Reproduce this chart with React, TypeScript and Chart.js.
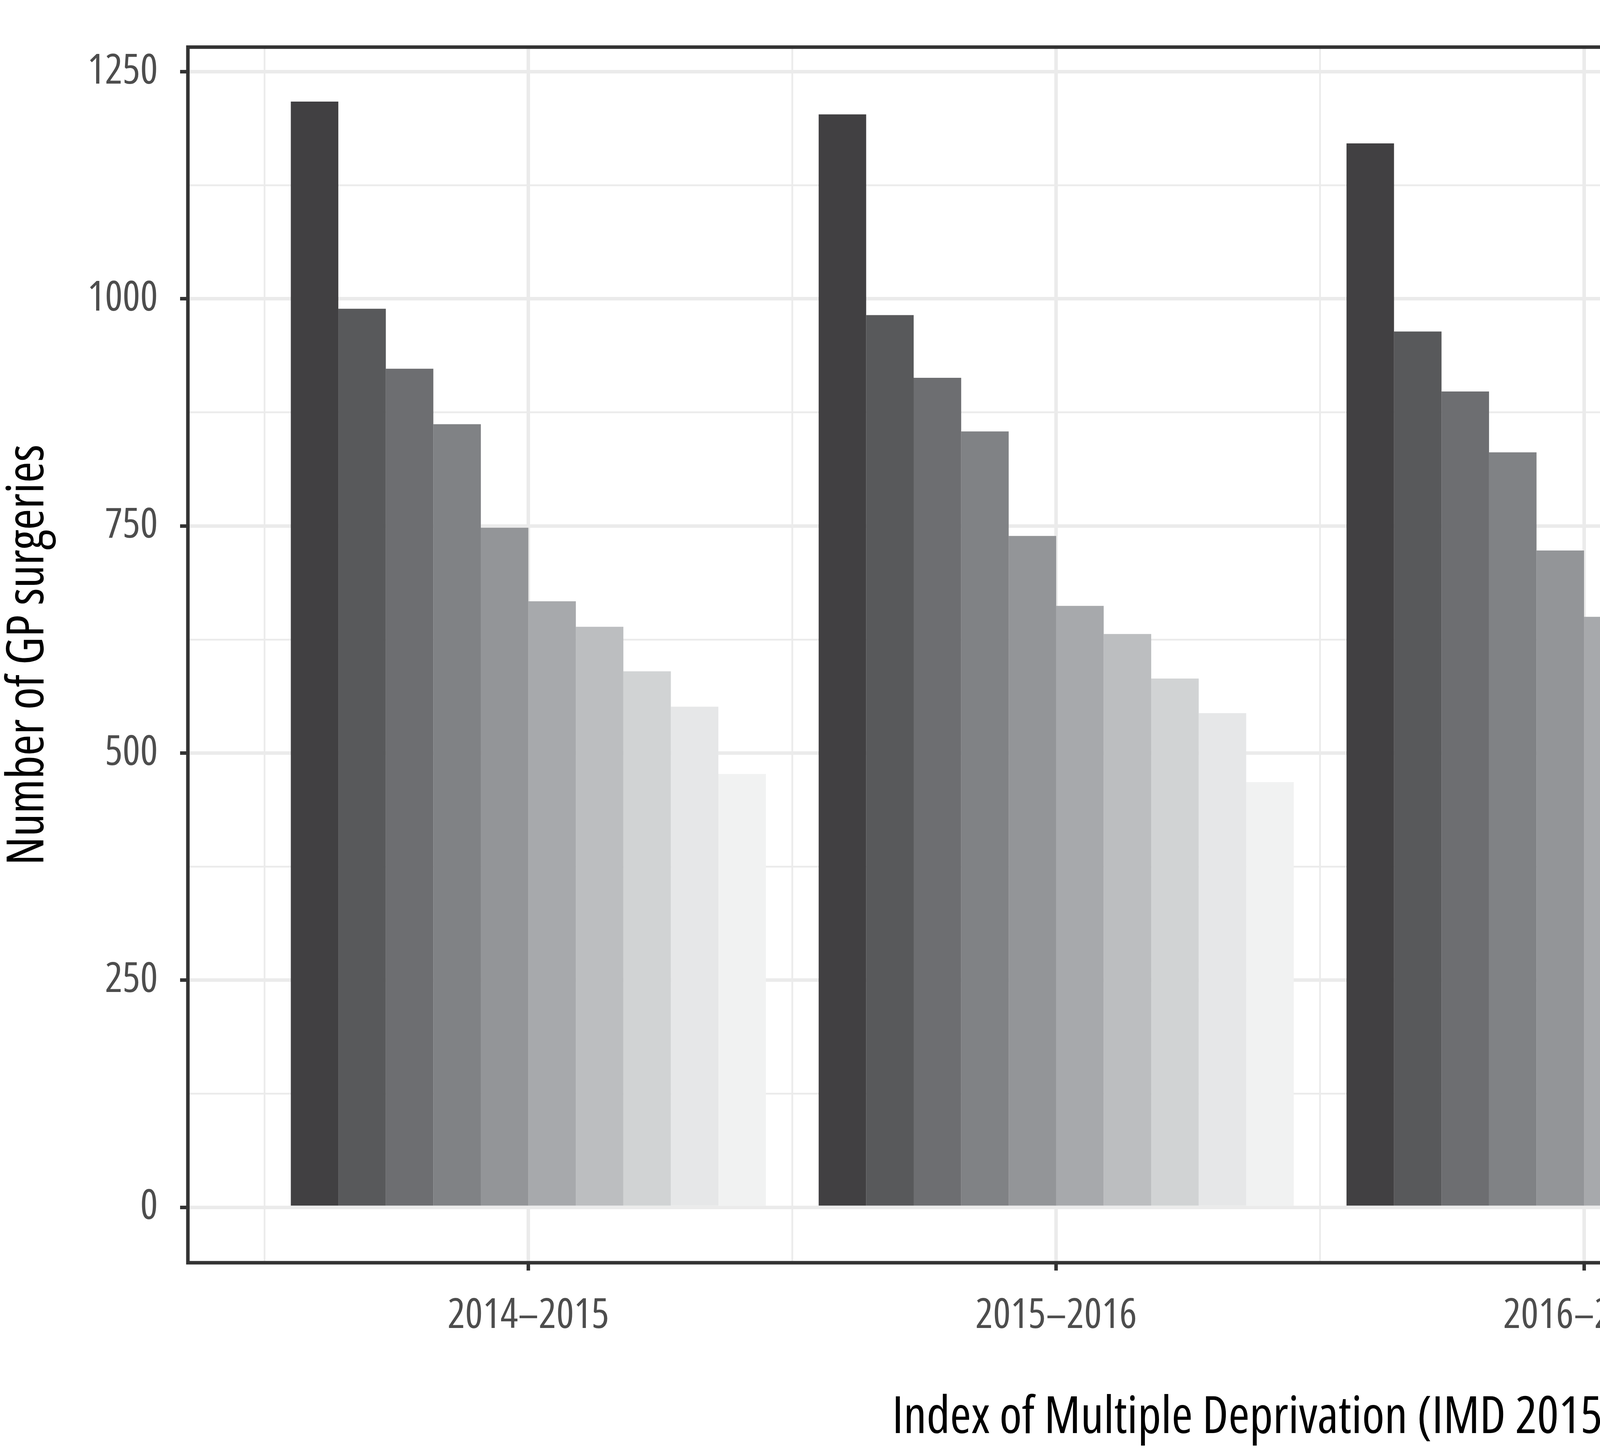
import React, { useEffect, useRef } from "react";
import { Chart, registerables } from "chart.js";

Chart.register(...registerables);

// data
const years = ["2014\u20132015", "2015\u20132016", "2016\u20132017", "2017\u20132018"];
const deciles = ["1", "2", "3", "4", "5", "6", "7", "8", "9", "10"];

const decile1 = [1217, 1203, 1171, 1085];
const decile2 = [989, 982, 964, 896];
const decile3 = [923, 913, 898, 846];
const decile4 = [862, 854, 831, 777];
const decile5 = [748, 739, 723, 672];
const decile6 = [667, 662, 650, 619];
const decile7 = [639, 631, 619, 591];
const decile8 = [590, 582, 570, 542];
const decile9 = [551, 544, 532, 511];
const decile10 = [477, 468, 456, 438];

const decileValues = [
  decile1, decile2, decile3, decile4, decile5,
  decile6, decile7, decile8, decile9, decile10,
];

const greys = [
  "#414042", "#58595b", "#6d6e71", "#808285", "#939598",
  "#a7a9ac", "#bcbec0", "#d1d3d4", "#e6e7e8", "#f1f2f2",
];

const W = 7222;
const H = 3719;
const FAMILY = '"Open Sans", sans-serif';
// Chart.js puts weight before size in the font string, so the stretch rides along
const COND = "400 condensed";

const panelBorder = {
  id: "panelBorder",
  afterDraw(chart: any) {
    const { ctx, chartArea: a } = chart;
    ctx.save();
    ctx.strokeStyle = "#333333";
    ctx.lineWidth = 9;
    ctx.strokeRect(a.left, a.top, a.right - a.left, a.bottom - a.top);
    ctx.restore();
  },
};

// ggplot-style legend to the right of the panel
const sideLegend = {
  id: "sideLegend",
  afterDraw(chart: any) {
    const { ctx, chartArea: a } = chart;
    const left = a.right + 153;
    const top = 909;
    const box = 132;
    const step = 144.4;
    ctx.save();
    ctx.fillStyle = "#000000";
    ctx.textAlign = "left";
    ctx.textBaseline = "alphabetic";
    ctx.font = `${COND} 100px ${FAMILY}`;
    ctx.fillText("IMD decile", left, 863);
    ctx.font = `${COND} 106px ${FAMILY}`;
    chart.data.datasets.forEach((ds: any, k: number) => {
      const y = top + k * step;
      ctx.fillStyle = ds.backgroundColor;
      ctx.fillRect(left, y, box, box);
      ctx.fillStyle = "#000000";
      ctx.fillText(ds.label, left + box + 28, y + 94);
    });
    ctx.restore();
  },
};

const App = () => {
  const canvasRef = useRef<HTMLCanvasElement | null>(null);
  const chartRef = useRef<any>(null);

  useEffect(() => {
    document.body.style.margin = "0";
    document.body.style.overflow = "hidden";
    if (!canvasRef.current) return;
    if (chartRef.current) chartRef.current.destroy();

    chartRef.current = new Chart(canvasRef.current, {
      type: "bar",
      data: {
        datasets: deciles.map((d, k) => ({
          label: d,
          data: decileValues[k].map((v, i) => ({ x: i, y: v })),
          backgroundColor: greys[k],
          borderWidth: 0,
          // the ruler takes the 0.5-unit grid ticks as its sample size
          categoryPercentage: 1.8,
          barPercentage: 1.0,
        })),
      },
      options: {
        animation: false,
        responsive: false,
        devicePixelRatio: 1,
        layout: { padding: { top: 50, right: 944, bottom: 0, left: 0 } },
        plugins: {
          tooltip: { enabled: false },
          legend: { display: false },
        },
        scales: {
          x: {
            type: "linear",
            min: -0.645,
            max: years.length - 1 + 0.645,
            offset: false,
            afterBuildTicks: (scale: any) => {
              const t = [];
              for (let v = -0.5; v <= years.length - 0.5; v += 0.5) t.push({ value: v });
              scale.ticks = t;
            },
            afterFit: (scale: any) => {
              scale.height = 487;
            },
            border: { display: false },
            grid: {
              offset: false,
              color: "#ebebeb",
              lineWidth: (c: any) => (Number.isInteger(c.tick?.value) ? 9 : 4.5),
              tickLength: 20,
              tickWidth: 9,
              tickColor: (c: any) => (Number.isInteger(c.tick?.value) ? "#333333" : "rgba(0,0,0,0)"),
            },
            ticks: {
              autoSkip: false,
              maxRotation: 0,
              padding: 53,
              color: "#4d4d4d",
              font: { family: FAMILY, weight: COND, size: 106 },
              callback: (v: any) => (Number.isInteger(v) ? years[v] : ""),
            },
            title: {
              display: true,
              text: "Index of Multiple Deprivation (IMD 2015) deciles",
              color: "#000000",
              padding: { top: 0, bottom: 23 },
              font: { family: FAMILY, weight: COND, size: 131, lineHeight: 1 },
            },
          },
          y: {
            type: "linear",
            min: -61,
            max: 1277,
            afterBuildTicks: (scale: any) => {
              const t = [];
              for (let v = 0; v <= 1250; v += 125) t.push({ value: v });
              scale.ticks = t;
            },
            afterFit: (scale: any) => {
              scale.width = 481;
            },
            border: { display: false },
            grid: {
              color: "#ebebeb",
              lineWidth: (c: any) => (c.tick && c.tick.value % 250 === 0 ? 9 : 4.5),
              tickLength: 20,
              tickWidth: 9,
              tickColor: (c: any) => (c.tick && c.tick.value % 250 === 0 ? "#333333" : "rgba(0,0,0,0)"),
            },
            ticks: {
              autoSkip: false,
              padding: 57,
              color: "#4d4d4d",
              font: { family: FAMILY, weight: COND, size: 106 },
              callback: (v: any) => (v % 250 === 0 ? String(v) : ""),
            },
            title: {
              display: true,
              text: "Number of GP surgeries",
              color: "#000000",
              padding: { top: 8, bottom: 0 },
              font: { family: FAMILY, weight: COND, size: 131, lineHeight: 1 },
            },
          },
        },
      },
      plugins: [panelBorder, sideLegend],
    } as any);

    return () => {
      if (chartRef.current) {
        chartRef.current.destroy();
        chartRef.current = null;
      }
    };
  }, []);

  return (
    <div style={{ width: W, height: H, background: "#ffffff", overflow: "hidden" }}>
      <canvas ref={canvasRef} width={W} height={H} style={{ display: "block" }} />
    </div>
  );
};

export default App;
